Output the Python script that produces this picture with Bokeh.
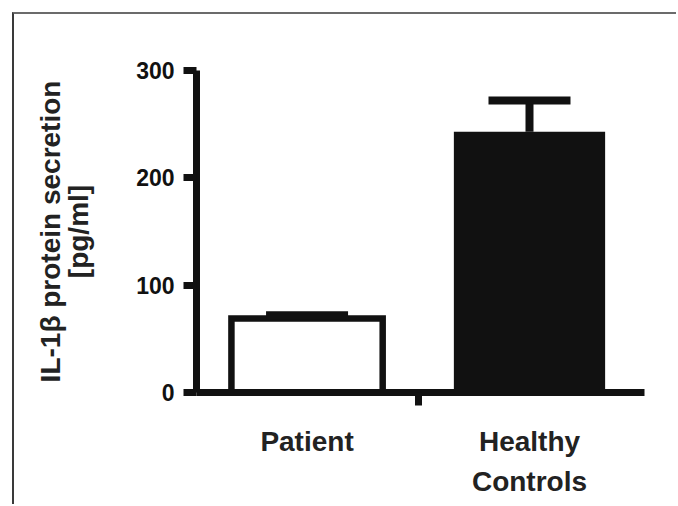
from bokeh.plotting import figure
from bokeh.models import ColumnDataSource, Range1d, FixedTicker, Whisker, TeeHead
from bokeh.embed import file_html
from bokeh.resources import INLINE

# ---- data ----
categories = ["Patient", "Healthy Controls"]
tick_labels = ["Patient", "Healthy\nControls"]
x_pos = [1, 2]
means = [69, 243]
errors = [3, 29]
y_ticks = [0, 100, 200, 300]
y_label = "IL-1\u03b2 protein secretion\n[pg/ml]"

INK = "#111111"
FONT = "Liberation Sans"

src = ColumnDataSource(dict(
    x=x_pos,
    mean=means,
    upper=[m + e for m, e in zip(means, errors)],
    fill=["white", INK],
    lw=[6.5, 0],
))

p = figure(width=664, height=492, output_backend="svg", toolbar_location=None,
           x_range=Range1d(0.503, 2.517), y_range=Range1d(0, 300),
           min_border_left=182, min_border_right=34, min_border_top=56, min_border_bottom=114)
p.styles = {"border-top": "2px solid #6b6b6b", "border-left": "2px solid #3a3a3a",
            "margin-top": "12px", "margin-left": "12px"}
p.outline_line_color = None
p.xgrid.visible = False
p.ygrid.visible = False
p.background_fill_color = "white"
p.border_fill_color = "white"

p.vbar(x="x", top="mean", bottom=0, width=0.68, source=src,
       fill_color="fill", line_color=INK, line_width="lw", line_join="miter")

wh = Whisker(source=src, base="x", upper="upper", lower="mean", dimension="height",
             line_color=INK, line_width=8,
             upper_head=TeeHead(size=82, line_color=INK, line_width=8),
             lower_head=None, level="overlay")
p.add_layout(wh)

# y axis
ya = p.yaxis[0]
ya.ticker = FixedTicker(ticks=y_ticks)
ya.axis_line_color = INK
ya.axis_line_width = 7
ya.major_tick_line_color = INK
ya.major_tick_line_width = 7
ya.major_tick_out = 13
ya.major_tick_in = 0
ya.minor_tick_line_color = None
ya.major_label_standoff = 9
ya.major_label_text_font = FONT
ya.major_label_text_font_style = "bold"
ya.major_label_text_font_size = "23px"
ya.major_label_text_color = INK
ya.axis_label = y_label
ya.axis_label_text_font = FONT
ya.axis_label_text_font_style = "bold"
ya.axis_label_text_font_size = "28px"
ya.axis_label_text_color = "#222222"
ya.axis_label_standoff = 39
ya.axis_label_text_line_height = 0.92

# x axis
xa = p.xaxis[0]
xa.ticker = FixedTicker(ticks=x_pos, minor_ticks=[1.5])
xa.major_label_overrides = {x: lab for x, lab in zip(x_pos, tick_labels)}
xa.axis_line_color = INK
xa.axis_line_width = 7
xa.major_tick_out = 0
xa.major_tick_in = 0
xa.major_tick_line_color = None
xa.minor_tick_line_color = INK
xa.minor_tick_line_width = 7
xa.minor_tick_out = 13
xa.minor_tick_in = 0
xa.major_label_standoff = 20
xa.major_label_text_font = FONT
xa.major_label_text_font_style = "bold"
xa.major_label_text_font_size = "28px"
xa.major_label_text_color = "#222222"
xa.major_label_text_line_height = 1.3

open("out.html", "w").write(file_html(p, INLINE))
